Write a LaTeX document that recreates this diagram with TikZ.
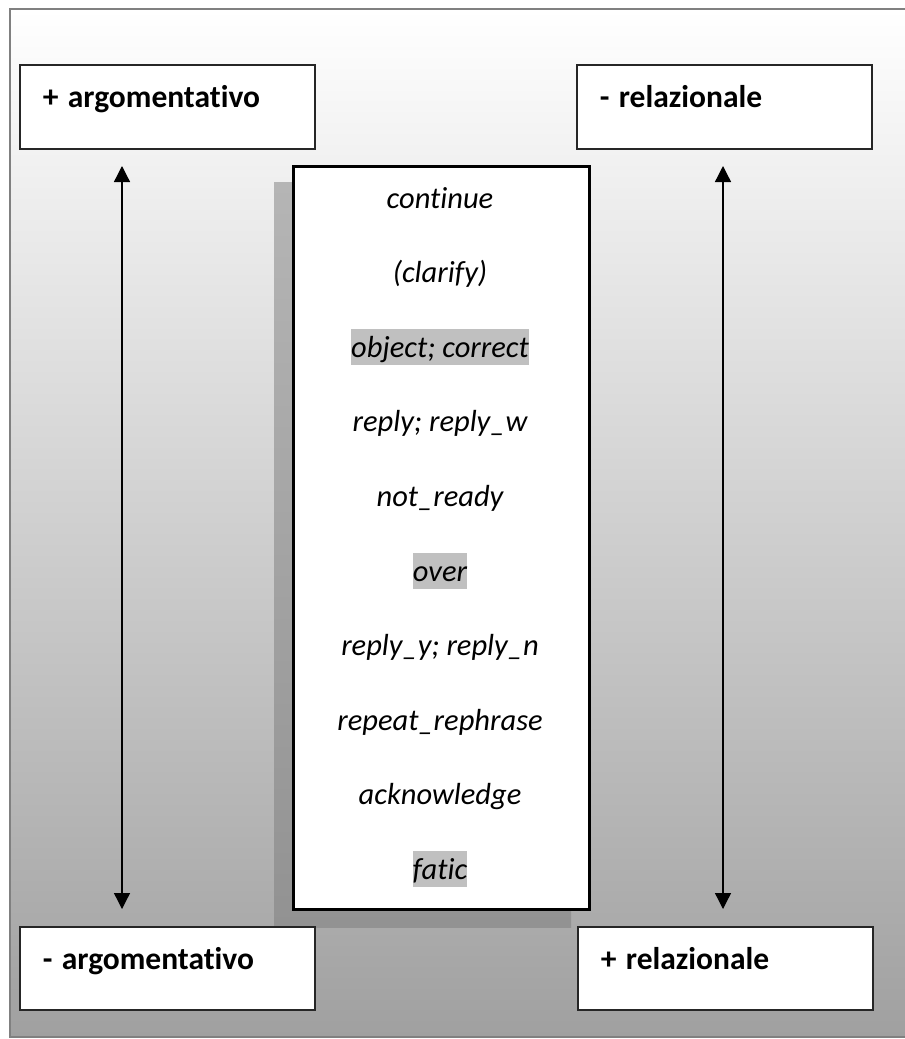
\documentclass[tikz,border=0pt]{standalone}
\usepackage{fontspec}
\setmainfont{Carlito}[Ligatures=NoCommon]
\usetikzlibrary{arrows.meta}
\definecolor{framegray}{RGB}{128,128,128}
\definecolor{bgbottom}{RGB}{160,160,160}
\definecolor{hl}{RGB}{192,192,192}
\definecolor{shtop}{RGB}{181,181,181}
\definecolor{shbot}{RGB}{146,146,146}
\begin{document}
\begin{tikzpicture}[x=1pt,y=1pt,
  labbox/.style={draw=black!85, fill=white, line width=1.5pt, anchor=north west,
    inner xsep=23pt, inner ysep=0pt, text width=249pt, align=left,
    text height=43pt, text depth=41pt,
    font=\fontsize{31.5}{36}\selectfont\bfseries},
  item/.style={anchor=base, inner sep=0pt, text height=28.5pt, text depth=8pt,
    font=\fontsize{30.5}{36}\selectfont\itshape},
  hlitem/.style={item, fill=hl},
  dbl/.style={{Triangle[width=16pt,length=16pt]}-{Triangle[width=16pt,length=16pt]}, line width=1.3pt}
]
\useasboundingbox (0,0) rectangle (905,-1039);
% background
\shade[top color=white, bottom color=bgbottom] (10,-9) rectangle (910,-1037);
\draw[framegray, line width=1.5pt] (910,-9) -- (10,-9) -- (10,-1037) -- (910,-1037);
% shadow of the central box
\shade[top color=shtop, bottom color=shbot] (274,-182) rectangle (571,-927);
% corner boxes
\node[labbox] (pa) at (19,-64) {+\kern-1pt\ argomentativo};
\node[labbox] (mr) at (576,-64) {-\kern-1pt\ relazionale};
\node[labbox, text depth=40pt] (ma) at (19,-926) {-\kern-1pt\ argomentativo};
\node[labbox, text depth=40pt] (pr) at (577,-926) {+\kern-1pt\ relazionale};
% central box
\node[draw=black, fill=white, line width=3pt, anchor=north west,
  minimum width=296pt, minimum height=743pt, inner sep=0pt] (mid) at (292,-165) {};
% items
\node[item]   (i1)  at (440,-208.0) {continue};
\node[item]   (i2)  at (440,-282.6) {(clarify)};
\node[hlitem] (i3)  at (440,-357.2) {object; correct};
\node[item]   (i4)  at (440,-431.8) {reply; reply\_w};
\node[item]   (i5)  at (440,-506.4) {not\_ready};
\node[hlitem] (i6)  at (440,-581.0) {over};
\node[item]   (i7)  at (440,-655.6) {reply\_y; reply\_n};
\node[item]   (i8)  at (440,-730.2) {repeat\_rephrase};
\node[item]   (i9)  at (440,-804.8) {acknowledge};
\node[hlitem] (i10) at (440,-879.4) {fatic};
% arrows
\coordinate (la1) at (122,-166);
\coordinate (la2) at (122,-909);
\coordinate (ra1) at (723,-166);
\coordinate (ra2) at (723,-909);
\draw[dbl] (la1) -- (la2);
\draw[dbl] (ra1) -- (ra2);
\end{tikzpicture}
\end{document}
